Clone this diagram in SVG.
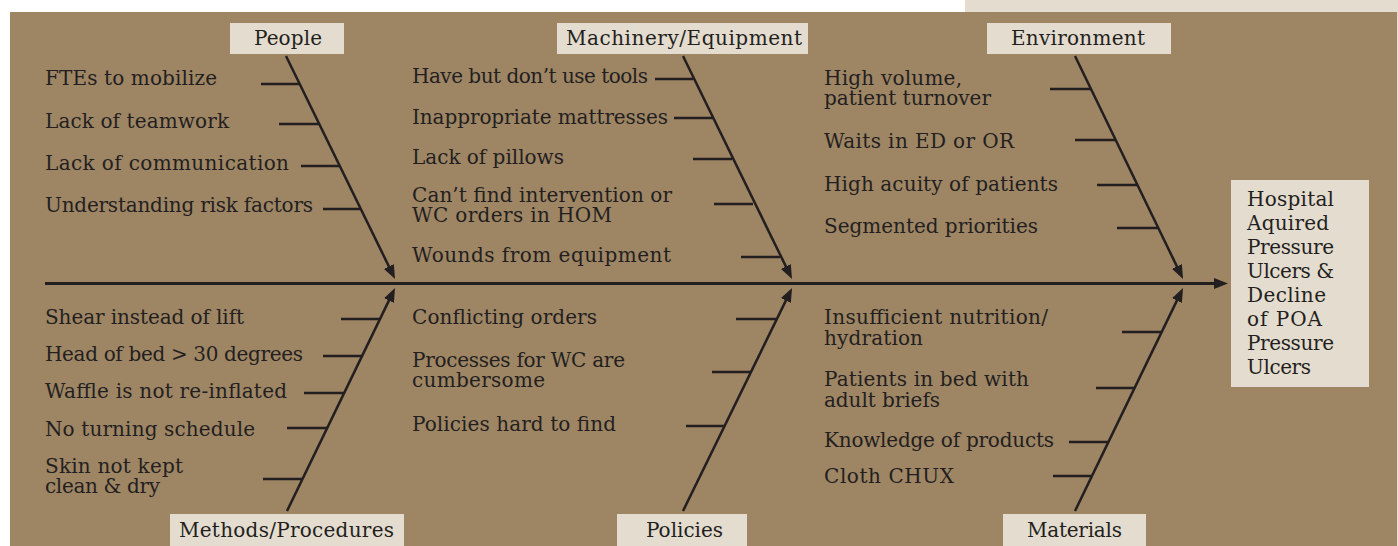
<svg xmlns="http://www.w3.org/2000/svg" width="1398" height="546" viewBox="0 0 1398 546">
<style>
.t{font-family:"DejaVu Serif","Liberation Serif",serif;font-size:20px;fill:#231f20}
.box{fill:#e3dccf}
.ln{stroke:#231f20;stroke-width:2.5;fill:none}
.sp{stroke:#231f20;stroke-width:3;fill:none}
</style>
<defs>
<marker id="ah" markerUnits="userSpaceOnUse" markerWidth="14" markerHeight="11" refX="8" refY="5.5" orient="auto">
<path d="M0,0 L14,5.5 L0,11 z" fill="#231f20"/>
</marker>
</defs>
<rect x="0" y="0" width="1398" height="546" fill="#ffffff"/>
<rect x="965" y="0" width="433" height="12" fill="#e3dccf"/>
<rect x="1397" y="0" width="1" height="546" fill="#e3dccf"/>
<rect x="10" y="12" width="1387" height="534" fill="#9e8564"/>

<g id="connectors">
<line class="sp" x1="45" y1="283.5" x2="1222" y2="283.5" marker-end="url(#ah)"/>
<line class="ln" x1="286" y1="56" x2="392.4" y2="273.6" marker-end="url(#ah)"/>
<line class="ln" x1="683" y1="56" x2="789.4" y2="273.6" marker-end="url(#ah)"/>
<line class="ln" x1="1075" y1="56" x2="1180.4" y2="273.6" marker-end="url(#ah)"/>
<line class="ln" x1="287" y1="511" x2="392.4" y2="293.4" marker-end="url(#ah)"/>
<line class="ln" x1="683" y1="511" x2="789.4" y2="293.4" marker-end="url(#ah)"/>
<line class="ln" x1="1075" y1="511" x2="1180.4" y2="293.4" marker-end="url(#ah)"/>
<path class="ln" d="M261,84H300 M279,124H320 M301,166H340 M323,209H361"/>
<path class="ln" d="M655,79H693 M674,118H713 M693,159H732 M714,204H753 M741,257H780"/>
<path class="ln" d="M1050,89H1091 M1075,140H1116 M1097,185H1138 M1117,228H1159"/>
<path class="ln" d="M341,319H380 M323,356H362 M304,393H344 M287,428H327 M263,479H303"/>
<path class="ln" d="M736,319H777 M712,372H751 M686,426H724"/>
<path class="ln" d="M1122,332H1162 M1096,388H1135 M1069,442H1109 M1053,476H1092"/>
</g>

<g id="people">
<rect class="box" x="230" y="23" width="114" height="31"/>
<text class="t" x="254" y="45" textLength="68">People</text>
<text class="t" x="45" y="85" textLength="172">FTEs to mobilize</text>
<text class="t" x="45" y="128" textLength="184">Lack of teamwork</text>
<text class="t" x="45" y="170" textLength="244">Lack of communication</text>
<text class="t" x="45" y="212" textLength="268">Understanding risk factors</text>
</g>

<g id="machinery">
<rect class="box" x="557" y="23" width="251" height="31"/>
<text class="t" x="566" y="45" textLength="236">Machinery/Equipment</text>
<text class="t" x="412" y="83" textLength="236">Have but don’t use tools</text>
<text class="t" x="412" y="124" textLength="256">Inappropriate mattresses</text>
<text class="t" x="412" y="164" textLength="152">Lack of pillows</text>
<text class="t" x="412" y="202" textLength="260">Can’t find intervention or</text>
<text class="t" x="412" y="222" textLength="200">WC orders in HOM</text>
<text class="t" x="412" y="262" textLength="259">Wounds from equipment</text>
</g>

<g id="environment">
<rect class="box" x="987" y="23" width="184" height="31"/>
<text class="t" x="1011" y="45" textLength="134">Environment</text>
<text class="t" x="824" y="85" textLength="138">High volume,</text>
<text class="t" x="824" y="105" textLength="167">patient turnover</text>
<text class="t" x="824" y="148" textLength="190">Waits in ED or OR</text>
<text class="t" x="824" y="191" textLength="234">High acuity of patients</text>
<text class="t" x="824" y="233" textLength="214">Segmented priorities</text>
</g>

<g id="methods">
<rect class="box" x="170" y="514" width="234" height="32"/>
<text class="t" x="179" y="537" textLength="215">Methods/Procedures</text>
<text class="t" x="45" y="324" textLength="199">Shear instead of lift</text>
<text class="t" x="45" y="361" textLength="258">Head of bed &gt; 30 degrees</text>
<text class="t" x="45" y="398" textLength="242">Waffle is not re-inflated</text>
<text class="t" x="45" y="436" textLength="210">No turning schedule</text>
<text class="t" x="45" y="473" textLength="138">Skin not kept</text>
<text class="t" x="45" y="493" textLength="115">clean &amp; dry</text>
</g>

<g id="policies">
<rect class="box" x="617" y="514" width="130" height="32"/>
<text class="t" x="646" y="537" textLength="77">Policies</text>
<text class="t" x="412" y="324" textLength="185">Conflicting orders</text>
<text class="t" x="412" y="367" textLength="213">Processes for WC are</text>
<text class="t" x="412" y="387" textLength="133">cumbersome</text>
<text class="t" x="412" y="431" textLength="204">Policies hard to find</text>
</g>

<g id="materials">
<rect class="box" x="1003" y="514" width="143" height="32"/>
<text class="t" x="1027" y="537" textLength="95">Materials</text>
<text class="t" x="824" y="324" textLength="224">Insufficient nutrition/</text>
<text class="t" x="824" y="345" textLength="99">hydration</text>
<text class="t" x="824" y="386" textLength="205">Patients in bed with</text>
<text class="t" x="824" y="407" textLength="116">adult briefs</text>
<text class="t" x="824" y="447" textLength="230">Knowledge of products</text>
<text class="t" x="824" y="483" textLength="130">Cloth CHUX</text>
</g>

<g id="effect">
<rect class="box" x="1231" y="180" width="138" height="207"/>
<text class="t" x="1247" y="206" textLength="87">Hospital</text>
<text class="t" x="1247" y="230" textLength="82">Aquired</text>
<text class="t" x="1247" y="254" textLength="87">Pressure</text>
<text class="t" x="1247" y="278" textLength="87">Ulcers &amp;</text>
<text class="t" x="1247" y="302" textLength="79">Decline</text>
<text class="t" x="1247" y="326" textLength="75">of POA</text>
<text class="t" x="1247" y="350" textLength="87">Pressure</text>
<text class="t" x="1247" y="374" textLength="64">Ulcers</text>
</g>
</svg>
